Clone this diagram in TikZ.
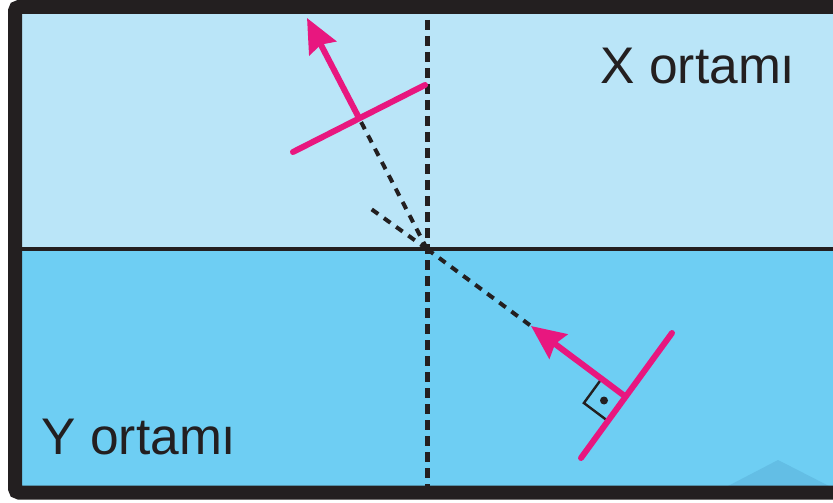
\documentclass[tikz,border=0pt]{standalone}
\usepackage{fontspec}
\setmainfont{Liberation Sans}
\usetikzlibrary{arrows.meta}
\definecolor{topblue}{HTML}{BAE5F8}
\definecolor{botblue}{HTML}{6ECEF3}
\definecolor{pinkray}{HTML}{E8177F}
\definecolor{frameblack}{HTML}{231F20}
\definecolor{wmark}{HTML}{63BEE5}
\begin{document}
\begin{tikzpicture}[x=1bp,y=-1bp,
  raydash/.style={frameblack, line width=4bp, dash pattern=on 8bp off 7bp},
  normaldash/.style={frameblack, line width=5bp, dash pattern=on 10bp off 6bp},
  mirrorline/.style={pinkray, line width=6bp, line cap=round},
  rayarrow/.style={pinkray, line width=6bp, -{Stealth[length=34bp,width=30bp,inset=4bp]}},
  mediumtext/.style={font=\fontsize{51.5bp}{60bp}\selectfont, text=frameblack, inner sep=0pt, anchor=base west}]
\clip (0,0) rectangle (833,503);
\fill[white] (0,0) rectangle (833,503);
\fill[topblue] (22,14) rectangle (833,249);
\fill[botblue] (22,249) rectangle (833,486);
\fill[wmark] (728,486) -- (778,460) -- (829,486) -- cycle;
% points
\coordinate (O) at (427,249);
\coordinate (Ntop) at (427,20);
\coordinate (Nbot) at (427,486);
\coordinate (Rfoot) at (359,118);
\coordinate (Rtip) at (307,18);
\coordinate (Ext) at (367,206);
\coordinate (Itip) at (531,326);
\coordinate (Ifoot) at (625.6,396.7);
\coordinate (TopM1) at (293,152);
\coordinate (TopM2) at (425,85);
\coordinate (BotM1) at (581,458);
\coordinate (BotM2) at (672,333);
\coordinate (SqA) at (601.6,378.7);
\coordinate (SqB) at (583.9,403);
\coordinate (SqC) at (607.9,421);
\coordinate (SqDot) at (604,400.5);
% dashed lines
\draw[normaldash] (Ntop) -- (Nbot);
\draw[raydash] (O) -- (Rfoot);
\draw[raydash] (O) -- (Ext);
\draw[raydash] (O) -- (Itip);
% boundary
\draw[frameblack, line width=4.5bp] (22,249) -- (833,249);
% right angle marker
\draw[frameblack, line width=2.4bp] (SqA) -- (SqB) -- (SqC);
\fill[frameblack] (SqDot) circle (4bp);
% pink rays and mirrors
\draw[mirrorline] (TopM1) -- (TopM2);
\draw[rayarrow] (Rfoot) -- (Rtip);
\draw[mirrorline] (BotM1) -- (BotM2);
\draw[rayarrow] (Ifoot) -- (Itip);
% frame
\draw[frameblack, line width=14bp, rounded corners=4bp] (15,7) rectangle (860,492.5);
% texts
\node[mediumtext] (X) at (600.5,84) {X ortamı};
\node[mediumtext] (Y) at (41.5,454) {Y ortamı};
\end{tikzpicture}
\end{document}
